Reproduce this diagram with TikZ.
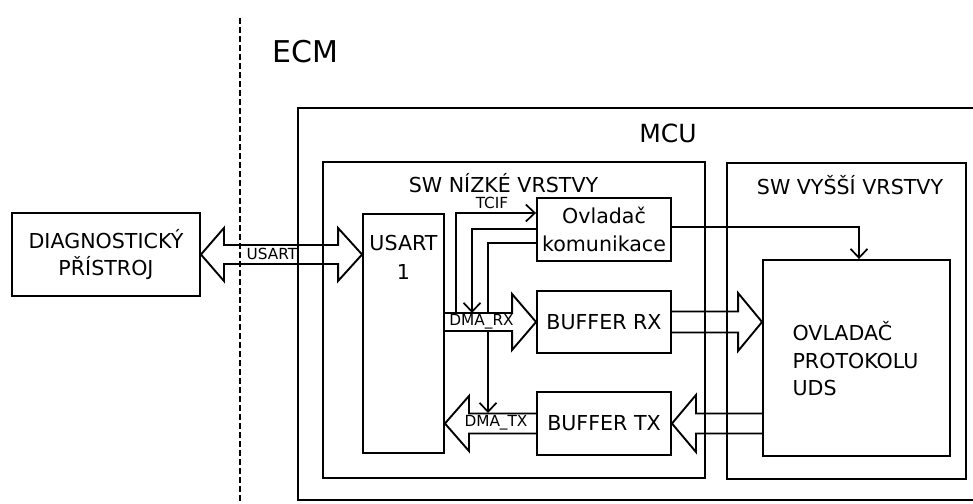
\documentclass[tikz,border=0pt]{standalone}
\usepackage{fontspec}
\setmainfont{DejaVu Sans}
\usetikzlibrary{arrows.meta,calc,backgrounds}
\tikzset{
  lw/.style={line width=1.9pt},
  box/.style={draw, lw, inner sep=0pt, align=center, font=\fontsize{20.6}{27.5}\selectfont},
  container/.style={draw, lw},
  txt/.style={inner sep=0pt, align=center, font=\fontsize{20.6}{27.5}\selectfont},
  small/.style={inner sep=0pt, font=\fontsize{15.3}{18}\selectfont},
  conn/.style={draw, line width=1.7pt, -{Straight Barb[length=9pt,width=17pt,line width=1.7pt]}},
  blockarrow/.style={draw, lw, fill=white, line join=miter},
  sep/.style={draw, line width=1.7pt, dash pattern=on 6pt off 3pt}
}
\newcommand{\blkarrow}[5]{%
  \draw[blockarrow] ($(#1)+(0,#4)$) -- ($(#2)+({-24*(#3)},#4)$) -- ($(#2)+({-24*(#3)},#5)$)
    -- (#2) -- ($(#2)+({-24*(#3)},-#5)$) -- ($(#2)+({-24*(#3)},-#4)$) -- ($(#1)+(0,-#4)$);
}
\begin{document}
\begin{tikzpicture}[x=1pt,y=-1pt]
\useasboundingbox (0,0) rectangle (973,503);
\clip (0,0) rectangle (973,503);

% containers
\draw[container] (298,108) rectangle (990,500);
\draw[container] (323,162) rectangle (705,478);
\draw[container] (727,163) rectangle (966,479);

% titles
\node[inner sep=0pt, font=\fontsize{30}{36}\selectfont] (ecm) at (305,52) {ECM};
\node[inner sep=0pt, font=\fontsize{25}{30}\selectfont] (mcu) at (668,133) {MCU};
\node[txt] (lowt) at (503.5,183) {SW NÍZKÉ VRSTVY};
\node[txt] (hight) at (850,185) {SW VYŠŠÍ VRSTVY};

% separator
\coordinate (septop) at (240,18);
\coordinate (sepbot) at (240,503);
\draw[sep] (septop) -- (sepbot);

% boxes
\node[box, minimum width=188pt, minimum height=83pt] (diag) at (106,254.5) {DIAGNOSTICKÝ\\PŘÍSTROJ};
\node[box, minimum width=81pt, minimum height=239pt] (usart) at (403.5,333.5) {};
\node[txt, font=\fontsize{20.6}{29}\selectfont] (usartlbl) at (403.5,257.5) {USART\\1};
\node[box, minimum width=134pt, minimum height=63pt] (ovl) at (604,229.5) {Ovladač\\komunikace};
\node[box, minimum width=134pt, minimum height=62pt] (bufrx) at (604,322) {BUFFER RX};
\node[box, minimum width=134pt, minimum height=63pt] (buftx) at (604,423.5) {BUFFER TX};
\node[box, minimum width=187pt, minimum height=196pt] (uds) at (856.5,358) {};
\node[txt, align=left] (udslbl) at (855.5,359) {OVLADAČ\\PROTOKOLU\\UDS};

% anchor coordinates
\coordinate (uR) at (usart.west |- diag.east);
\coordinate (rxS) at (usart.east |- bufrx.west);
\coordinate (txT) at (usart.east |- buftx.west);
\coordinate (brxT) at (uds.west |- bufrx.east);
\coordinate (btxS) at (uds.west |- buftx.east);
\coordinate (tcifS) at (456,313);
\coordinate (rxTop) at (472,313);
\coordinate (txTop) at (488,413);

\begin{pgfonlayer}{background}
  % thin connectors
  \draw[conn] (tcifS) |- ([yshift=16.5pt]ovl.west);
  \draw[conn] ([yshift=0.5pt]ovl.west) -| (rxTop);
  \draw[conn] ([yshift=-13.5pt]ovl.west) -| (txTop);
  \draw[conn] ([yshift=2.5pt]ovl.east) -| ([xshift=2.5pt]uds.north);
  % block arrows
  \draw[blockarrow] (diag.east) -- ($(diag.east)+(23,-26.5)$) -- ($(diag.east)+(23,-9.5)$)
     -- ($(uR)+(-24,-9.5)$) -- ($(uR)+(-24,-26.5)$) -- (uR) -- ($(uR)+(-24,26.5)$)
     -- ($(uR)+(-24,9.5)$) -- ($(diag.east)+(23,9.5)$) -- ($(diag.east)+(23,26.5)$) -- cycle;
  \blkarrow{rxS}{bufrx.west}{1}{9}{28}
  \blkarrow{buftx.west}{txT}{-1}{10}{27.5}
  \blkarrow{bufrx.east}{brxT}{1}{10.5}{29}
  \blkarrow{btxS}{buftx.east}{-1}{10}{28.5}
\end{pgfonlayer}

% labels on connectors
\node[small] (tcif) at (492,203) {TCIF};
\node[small] (usartarr) at (272,254) {USART};
\node[small] (dmarx) at (481.5,322) {DMA\_RX};
\node[small] (dmatx) at (496,423) {DMA\_TX};
\end{tikzpicture}
\end{document}
